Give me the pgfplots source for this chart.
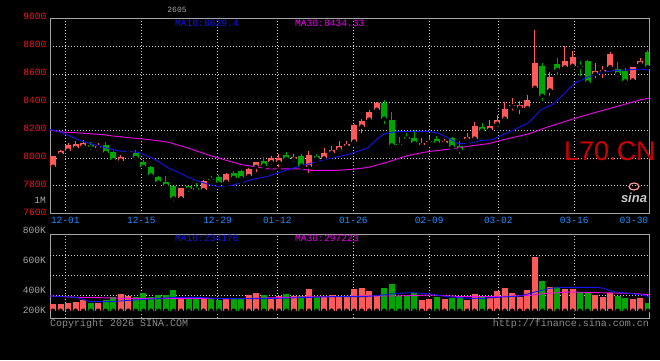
\documentclass[border=0pt]{standalone}
\usepackage{pgfplots}
\pgfplotsset{compat=1.18}
\usepackage{pgfplotstable}
\usepackage{fontspec}
\setmainfont{Liberation Mono}
\newfontfamily\arialf{Liberation Sans}
\definecolor{cred}{RGB}{255,90,90}
\definecolor{cgreen}{RGB}{0,166,0}
\definecolor{tickred}{RGB}{235,25,25}
\definecolor{gridc}{RGB}{205,205,205}
\definecolor{framec}{RGB}{165,165,165}
\definecolor{datec}{RGB}{40,140,255}
\definecolor{mablue}{RGB}{20,20,240}
\definecolor{mamag}{RGB}{240,0,240}
\definecolor{txtgray}{RGB}{165,165,165}
\definecolor{logored}{RGB}{205,0,0}
\tikzset{gridline/.style={gridc, line width=0.7pt, dash pattern=on 0.8pt off 2.2pt}}

\pgfplotstableread{
i O H L C V
0 7936 8015 7930 8012 109
1 8026 8060 7995 8050 109
2 8052 8107 8031 8095 119
3 8071 8121 8055 8102 129
4 8083 8128 8064 8105 149
6 8074 8107 8048 8088 115
9 7981 8024 7969 8005 210
10 8040 8060 8012 8052 193
17 7710 7781 7683 7781 183
20 7769 7840 7762 7833 163
23 7829 7895 7800 7881 159
26 7869 7931 7869 7921 197
27 7936 7967 7881 7967 220
29 7969 8017 7936 8002 163
30 7969 8029 7917 8002 190
32 7990 8031 7957 8005 190
34 7936 8052 7876 8024 261
36 7995 8071 7995 8038 176
37 8038 8088 8012 8055 197
38 8060 8124 8060 8088 176
39 8083 8124 8069 8102 176
40 8117 8243 8107 8233 261
41 8224 8280 8160 8267 271
42 8274 8345 8269 8331 241
43 8345 8402 8312 8390 200
49 8093 8143 8076 8109 149
50 8112 8159 8100 8119 163
52 8107 8136 8088 8121 156
55 8133 8179 8112 8148 149
56 8138 8259 8131 8231 210
58 8200 8274 8200 8231 166
59 8245 8309 8212 8269 241
60 8281 8402 8269 8352 271
61 8369 8431 8324 8376 220
62 8360 8409 8298 8376 183
63 8357 8452 8357 8417 251
64 8502 8916 8469 8681 587
66 8483 8612 8431 8576 282
68 8648 8800 8626 8693 261
69 8660 8767 8643 8724 261
72 8602 8679 8555 8626 200
73 8617 8660 8555 8629 183
74 8650 8760 8636 8745 217
77 8555 8652 8540 8652 159
78 8674 8714 8655 8695 173
}\upT

\pgfplotstableread{
i O H L C V
5 8095 8117 8040 8076 115
7 8095 8117 8024 8036 149
8 8040 8052 7969 7983 176
11 8036 8060 7988 8000 176
12 7969 7988 7905 7936 220
13 7933 7945 7862 7874 183
14 7862 7869 7812 7824 200
15 7824 7869 7793 7800 200
16 7795 7800 7674 7710 251
18 7798 7802 7738 7776 176
19 7783 7817 7755 7772 183
21 7848 7867 7824 7843 170
22 7862 7874 7812 7817 149
24 7890 7905 7840 7857 156
25 7905 7914 7829 7855 159
28 7981 8005 7933 7945 197
31 8019 8045 7976 7993 210
33 8017 8026 7929 7945 190
35 8017 8031 7981 7995 176
44 8395 8417 8226 8281 271
45 8271 8328 8055 8090 312
46 8093 8152 8083 8090 190
47 8152 8181 8112 8138 190
48 8143 8198 8105 8105 224
51 8138 8155 8093 8107 183
53 8143 8150 8065 8076 166
54 8083 8119 8012 8060 176
57 8224 8252 8174 8195 183
65 8659 8681 8393 8445 343
67 8674 8717 8576 8631 282
70 8657 8695 8571 8652 231
71 8695 8700 8531 8540 217
75 8636 8688 8564 8600 190
76 8619 8643 8512 8548 170
79 8755 8774 8648 8648 122
}\dnT

\pgfplotstableread{
x y
-0.66 8207
0.66 8190
2.0 8162
3.3 8131
4.6 8107
6.0 8088
7.3 8067
8.6 8050
10.0 8045
11.3 8040
12.2 8021
13.1 8000
13.9 7976
15.3 7929
16.6 7898
17.9 7862
19.3 7833
20.6 7810
21.9 7795
23.7 7802
25.0 7821
26.4 7845
28.6 7869
31.2 7917
33.9 7957
36.5 7993
39.2 8024
41.8 8071
43.2 8143
44.1 8174
45.8 8188
49.8 8190
51.1 8178
52.5 8143
53.8 8102
55.1 8102
56.8 8124
58.4 8131
59.5 8160
61.3 8203
63.1 8250
64.0 8298
64.8 8345
66.3 8381
67.5 8440
69.3 8536
71.0 8579
72.8 8612
74.6 8626
76.4 8631
78.1 8636
79.4 8626
}\maTen

\pgfplotstableread{
x y
-0.66 8202
1.1 8186
3.3 8179
4.6 8174
6.4 8167
8.2 8155
10.4 8143
11.7 8136
13.1 8129
15.3 8112
17.9 8071
20.6 8021
21.9 8000
23.7 7971
25.0 7952
26.4 7940
28.6 7921
32.5 7921
34.3 7910
37.4 7910
39.5 7917
41.8 7931
44.5 7971
47.1 8017
49.8 8045
52.8 8064
55.1 8083
57.8 8102
60.4 8138
63.1 8171
65.9 8225
70.2 8298
74.6 8364
78.1 8417
79.4 8429
}\maThirty

\pgfplotstableread{
x y
-0.4 190
3.1 176
4.9 132
7.6 132
10.7 149
13.8 163
16.0 176
19.5 176
21.7 163
28.4 163
32.8 173
36.8 183
41.2 183
43.4 197
45.6 217
47.8 224
50.1 210
52.3 183
54.5 170
56.7 163
58.9 176
62.0 190
64.2 234
66.0 268
67.8 278
72.2 278
73.1 268
74.4 234
76.6 217
78.4 197
79.3 183
}\vmaTen

\pgfplotstableread{
x y
-0.4 190
3.1 176
6.2 173
10.7 163
15.1 166
19.5 166
23.9 163
28.4 170
32.8 180
36.8 183
41.2 190
45.6 190
50.1 200
54.5 183
58.9 183
63.3 197
65.5 217
68.7 231
72.2 224
76.6 217
79.3 203
}\vmaThirty

\pgfplotsset{
  kpanel/.style={
    scale only axis, anchor=south west,
    width=599.3pt,
    xmin=-0.4, xmax=79.2,
    axis line style={framec, line width=0.8pt},
    major tick length=0pt, tick style={draw=none},
    grid style={gridc, line width=0.7pt, dash pattern=on 0.8pt off 2.2pt},
  },
  candle/.style={forget plot, only marks, mark=none,
    error bars/.cd, y dir=plus, y explicit, error mark=none,
    error bar style={draw=#1, line width=1pt}},
  body/.style={forget plot, only marks, mark=none,
    error bars/.cd, y dir=plus, y explicit, error mark=none,
    error bar style={draw=#1, line width=6pt}},
}

\begin{document}
\begin{tikzpicture}
\fill[black] (0pt,0pt) rectangle (660pt,360pt);

% ---------- price panel ----------
\begin{axis}[kpanel,
  at={(50pt,146.3pt)}, height=195.4pt,
  ymin=7600, ymax=9000,
  xmajorgrids, ymajorgrids,
  xtick={1.63,11.73,21.85,29.79,39.88,49.97,59.14,69.23},
  ytick={7600,7800,8000,8200,8400,8600,8800,9000},
  yticklabels={7600,7800,8000,8200,8400,8600,8800,9000},
  yticklabel style={tickred, font=\fontsize{9.6}{10}\selectfont, yshift=1.5pt},
  xticklabels={12-01,12-15,12-29,01-12,01-26,02-09,03-02,03-16},
  xticklabel style={datec, font=\fontsize{9.5}{10}\selectfont},
  extra x ticks={77.16}, extra x tick labels={03-30},
  extra x tick style={grid=none},
]
\addplot[candle=cred] table[x=i, y=L, y error plus expr=\thisrow{H}-\thisrow{L}] {\upT};
\addplot[body=cred] table[x=i, y=O, y error plus expr={max(\thisrow{C}-\thisrow{O},7)}] {\upT};
\addplot[candle=cgreen] table[x=i, y=L, y error plus expr=\thisrow{H}-\thisrow{L}] {\dnT};
\addplot[body=cgreen] table[x=i, y=C, y error plus expr={max(\thisrow{O}-\thisrow{C},7)}] {\dnT};
\addplot[mamag, line width=0.9pt, mark=none] table {\maThirty};
\addplot[mablue, line width=0.9pt, mark=none] table {\maTen};
\end{axis}

% ---------- volume panel ----------
\begin{axis}[kpanel,
  at={(50pt,42pt)}, height=84pt,
  ymin=-34.1, ymax=820.9,
  ytick=\empty, xtick=\empty,
]
\pgfplotsinvokeforeach{1.63,11.73,21.85,29.79,39.88,49.97,59.14,69.23}{
  \draw[gridline] (axis cs:#1,-34.1) -- (axis cs:#1,820.9);
}
\pgfplotsinvokeforeach{200,400,600}{
  \draw[gridline] (axis cs:-0.4,#1) -- (axis cs:79.2,#1);
}
\addplot[body=cred] table[x=i, y expr=40, y error plus expr=\thisrow{V}-40] {\upT};
\addplot[body=cgreen] table[x=i, y expr=40, y error plus expr=\thisrow{V}-40] {\dnT};
\addplot[mamag, line width=0.9pt, mark=none] table {\vmaThirty};
\addplot[mablue, line width=0.9pt, mark=none] table {\vmaTen};
\end{axis}

% ---------- texts ----------
\begin{scope}[every node/.style={inner sep=0pt, font=\fontsize{9.6}{10}\selectfont}]
\node[anchor=east, txtgray] at (46pt,129.3pt) {800K};
\node[anchor=east, txtgray] at (46pt,99.3pt) {600K};
\node[anchor=east, txtgray] at (46pt,69.7pt) {400K};
\node[anchor=east, txtgray] at (46pt,50pt) {200K};
\node[anchor=east, txtgray] at (46pt,160pt) {1M};
\node[txtgray, font=\fontsize{8}{9}\selectfont] at (177pt,350.5pt) {2605};
\node[anchor=west, mablue] at (175pt,336.5pt) {MA10:8629.4};
\node[anchor=west, mamag] at (295pt,336.5pt) {MA30:8434.33};
\node[anchor=west, mablue] at (175pt,121.5pt) {MA10:234178};
\node[anchor=west, mamag] at (295pt,121.5pt) {MA30:297223};
\node[anchor=west, txtgray!85!black, font=\fontsize{10}{11}\selectfont] at (50pt,36.4pt) {Copyright 2026 SINA.COM};
\node[anchor=east, txtgray!85!black, font=\fontsize{10}{11}\selectfont] at (649pt,36.4pt) {http://finance.sina.com.cn};
\node[anchor=base west, logored, font=\arialf\fontsize{27}{28}\selectfont] at (564pt,200pt) {L70.CN};
\node[txtgray!60!white, font=\arialf\bfseries\itshape\fontsize{13}{14}\selectfont] at (634pt,162pt) {sina};
\draw[red!40!white, line width=1.2pt] (634pt,173.5pt) ellipse (5pt and 3.5pt);
\end{scope}

\pgfresetboundingbox
\path (0pt,0pt) rectangle (660pt,360pt);
\end{tikzpicture}
\end{document}
